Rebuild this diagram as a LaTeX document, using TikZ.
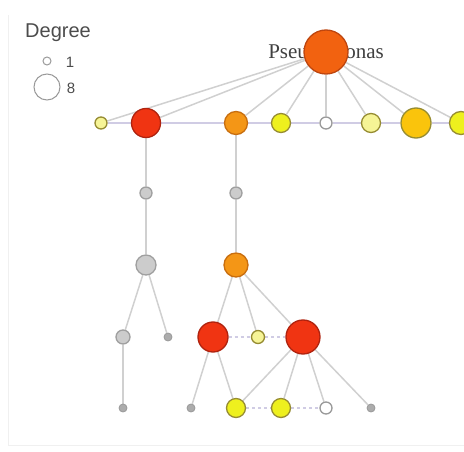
\documentclass[tikz,border=0pt]{standalone}
\usepackage{fontspec}
\setmainfont{Liberation Serif}
\setsansfont{Liberation Sans}
\usetikzlibrary{backgrounds}

\definecolor{hubred}{RGB}{240,52,18}
\definecolor{hubrim}{RGB}{175,35,15}
\definecolor{rootorange}{RGB}{242,98,16}
\definecolor{rootrim}{RGB}{190,70,15}
\definecolor{midorange}{RGB}{244,150,22}
\definecolor{midrim}{RGB}{200,110,15}
\definecolor{leafyellow}{RGB}{238,240,30}
\definecolor{paleyellow}{RGB}{246,244,150}
\definecolor{goldfill}{RGB}{250,196,12}
\definecolor{olive}{RGB}{150,140,50}
\definecolor{linkgray}{RGB}{208,208,208}
\definecolor{rowlink}{RGB}{208,204,228}

\begin{document}
\begin{tikzpicture}[x=1pt, y=-1pt,
    state/.style={draw, circle, inner sep=0pt, line width=1.3pt},
    link/.style={draw=linkgray, line width=1.5pt},
    rowline/.style={draw=rowlink, line width=1.2pt},
    peer/.style={draw=rowlink, line width=1.2pt, dashed},
    dot/.style={state, minimum size=8pt, fill=gray!65, draw=gray!80, line width=0.8pt},
    greyv/.style={state, fill=gray!40, draw=gray!75},
    keytext/.style={font=\sffamily\fontsize{15}{15}\selectfont, text=black!70}]
    \useasboundingbox (0,0) rectangle (464,452);

    % legend
    \node[font=\sffamily\fontsize{20}{20}\selectfont, text=black!70] (deg) at (58,33) {Degree};
    \node[state, minimum size=8pt, draw=gray!80, line width=1pt] (key1) at (47,61) {};
    \node[state, minimum size=26pt, draw=gray!80, line width=1pt] (key8) at (47,87) {};
    \node[keytext] (one) at (70,62) {1};
    \node[keytext] (eight) at (71,88) {8};

    % hub, its name sits under the disc
    \node[font=\fontsize{21}{21}\selectfont, text=black!75] (rootname) at (326,51) {Pseudomonas};
    \node[state, minimum size=44pt, fill=rootorange, draw=rootrim] (root) at (326,52) {};

    % first row
    \node[state, minimum size=12pt, fill=paleyellow, draw=olive] (t1) at (101,123) {};
    \node[state, minimum size=29pt, fill=hubred, draw=hubrim] (t2) at (146,123) {};
    \node[state, minimum size=23pt, fill=midorange, draw=midrim] (t3) at (236,123) {};
    \node[state, minimum size=19pt, fill=leafyellow, draw=olive] (t4) at (281,123) {};
    \node[state, minimum size=12pt, fill=white, draw=gray!80] (t5) at (326,123) {};
    \node[state, minimum size=19pt, fill=paleyellow, draw=olive] (t6) at (371,123) {};
    \node[state, minimum size=30pt, fill=goldfill, draw=olive] (t7) at (416,123) {};
    \node[state, minimum size=23pt, fill=leafyellow, draw=olive] (t8) at (461,123) {};

    % chains below
    \node[greyv, minimum size=12pt] (m1) at (146,193) {};
    \node[greyv, minimum size=12pt] (m2) at (236,193) {};
    \node[greyv, minimum size=20pt] (n1) at (146,265) {};
    \node[state, minimum size=24pt, fill=midorange, draw=midrim] (n2) at (236,265) {};

    \node[greyv, minimum size=14pt] (p1) at (123,337) {};
    \node[dot] (p2) at (168,337) {};
    \node[state, minimum size=30pt, fill=hubred, draw=hubrim] (p3) at (213,337) {};
    \node[state, minimum size=13pt, fill=paleyellow, draw=olive] (p4) at (258,337) {};
    \node[state, minimum size=34pt, fill=hubred, draw=hubrim] (p5) at (303,337) {};

    \node[dot] (q1) at (123,408) {};
    \node[dot] (q2) at (191,408) {};
    \node[state, minimum size=19pt, fill=leafyellow, draw=olive] (q3) at (236,408) {};
    \node[state, minimum size=19pt, fill=leafyellow, draw=olive] (q4) at (281,408) {};
    \node[state, minimum size=12pt, fill=white, draw=gray!80] (q5) at (326,408) {};
    \node[dot] (q6) at (371,408) {};

    \begin{scope}[on background layer]
        \draw[gray!12, line width=1pt] (8,15) -- (8,445) -- (464,445);
        \foreach \i in {1,...,8}
            \draw[link] (root) -- (t\i);
        \foreach \a/\b in {1/2,2/3,3/4,4/5,5/6,6/7,7/8}
            \draw[rowline] (t\a) -- (t\b);
        \draw[link] (t2) -- (m1) -- (n1);
        \draw[link] (t3) -- (m2) -- (n2);
        \draw[link] (n1) -- (p1);
        \draw[link] (n1) -- (p2);
        \draw[link] (p1) -- (q1);
        \foreach \p in {p3,p4,p5}
            \draw[link] (n2) -- (\p);
        \draw[link] (p3) -- (q2);
        \draw[link] (p3) -- (q3);
        \foreach \q in {q3,q4,q5,q6}
            \draw[link] (p5) -- (\q);
        \draw[peer] (p3) -- (p4) -- (p5);
        \draw[peer] (q3) -- (q4) -- (q5);
    \end{scope}
\end{tikzpicture}
\end{document}
